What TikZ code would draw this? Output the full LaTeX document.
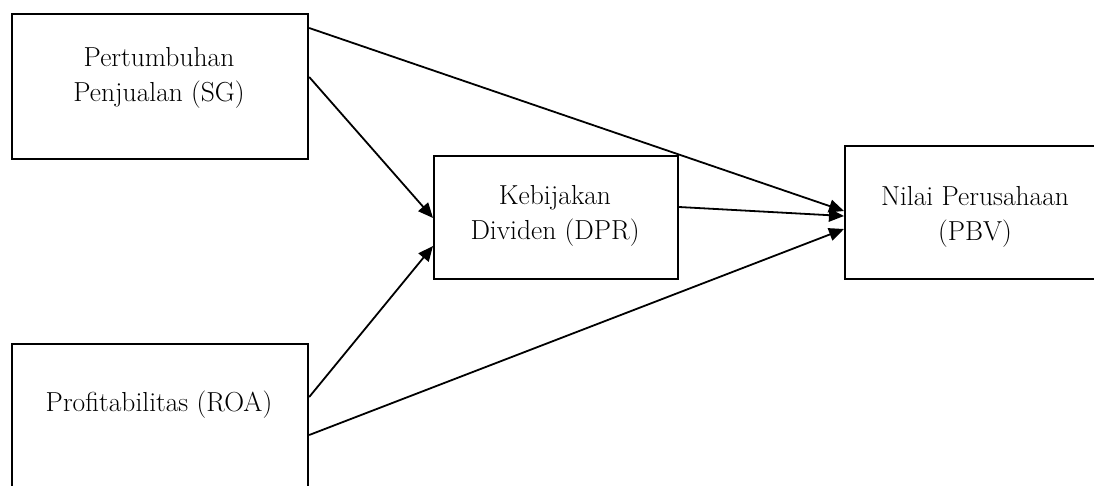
\documentclass[tikz,border=0pt]{standalone}
\usetikzlibrary{arrows.meta}
\begin{document}
\begin{tikzpicture}[x=1pt,y=-1pt,
  box/.style={draw,line width=2.2pt,inner sep=0pt,anchor=north west},
  lbl/.style={align=center,inner sep=0pt,font=\fontsize{27.5}{35}\selectfont},
  conn/.style={line width=1.8pt,-{Triangle[length=15pt,width=13pt]}}]
\useasboundingbox (0,0) rectangle (1094,485);
\clip (0,0) rectangle (1094,485);
\node[box,minimum width=296pt,minimum height=145pt] (sg) at (11,13) {};
\node[box,minimum width=296pt,minimum height=146pt] (roa) at (11,343) {};
\node[box,minimum width=244pt,minimum height=123pt] (dpr) at (433,155) {};
\node[box,minimum width=262pt,minimum height=133pt] (pbv) at (844,145) {};
\node[lbl] (tsg) at (159,78) {Pertumbuhan\\Penjualan (SG)};
\node[lbl] (troa) at (159,405) {Profitabilitas (ROA)};
\node[lbl] (tdpr) at (555,216) {Kebijakan\\Dividen (DPR)};
\node[lbl] (tpbv) at (975,217) {Nilai Perusahaan\\(PBV)};
\coordinate (s1) at ([yshift=-15pt]sg.north east);
\coordinate (s2) at ([yshift=-64pt]sg.north east);
\coordinate (r1) at ([yshift=-54pt]roa.north east);
\coordinate (r2) at ([yshift=-92pt]roa.north east);
\coordinate (d1) at ([yshift=-63pt]dpr.north west);
\coordinate (d2) at ([yshift=-91pt]dpr.north west);
\coordinate (d3) at ([yshift=-52pt]dpr.north east);
\coordinate (p1) at ([yshift=-66pt]pbv.north west);
\coordinate (p2) at ([yshift=-71pt]pbv.north west);
\coordinate (p3) at ([yshift=-84pt]pbv.north west);
\draw[conn] (s1) -- (p1);
\draw[conn] (s2) -- (d1);
\draw[conn] (r1) -- (d2);
\draw[conn] (r2) -- (p3);
\draw[conn] (d3) -- (p2);
\end{tikzpicture}
\end{document}
